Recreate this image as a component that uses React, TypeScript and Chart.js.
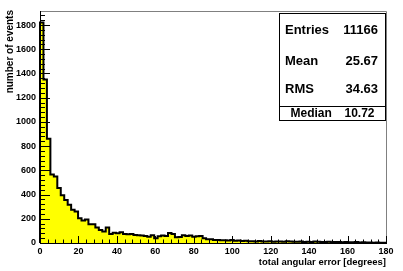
import React, { useEffect, useRef } from 'react';
import { Chart, registerables } from 'chart.js';

Chart.register(...registerables);

// ---------- data ----------
const binLow = 0;
const binHigh = 180;
const counts = [
  1820, 1350, 860, 565, 550, 455, 395, 355, 315, 275,
  260, 205, 185, 195, 155, 155, 128, 108, 95, 127,
  75, 85, 80, 88, 75, 72, 74, 66, 63, 62,
  58, 52, 63, 40, 55, 62, 58, 82, 75, 48,
  50, 64, 58, 62, 52, 55, 58, 40, 32, 30,
  25, 24, 22, 22, 20, 24, 18, 20, 16, 18,
  14, 15, 12, 16, 13, 12, 14, 10, 12, 12,
  10, 14, 12, 11, 10, 12, 9, 10, 8, 12,
  10, 9, 8, 10, 7, 9, 8, 6, 9, 7,
  6, 8, 5, 6, 5, 4, 3, 4, 2, 2,
];
const xTicks = [0, 20, 40, 60, 80, 100, 120, 140, 160, 180];
const yTicks = [0, 200, 400, 600, 800, 1000, 1200, 1400, 1600, 1800];
const yMax = 1916;
const xMinorStep = 4;
const yMinorStep = 40;
const statNames = ['Entries', 'Mean', 'RMS'];
const statValues = ['11166', '25.67', '34.63'];
const medianName = 'Median';
const medianValue = '10.72';
const xTitle = 'total angular error [degrees]';
const yTitle = 'number of events';

const FONT = '"Liberation Sans", Arial, Helvetica, sans-serif';

export default function App() {
  const ref = useRef<HTMLCanvasElement | null>(null);

  useEffect(() => {
    const canvas = ref.current;
    if (!canvas) return;
    const w = (binHigh - binLow) / counts.length;
    const pts: { x: number; y: number }[] = [{ x: binLow, y: 0 }];
    counts.forEach((c, i) => pts.push({ x: binLow + i * w, y: c }));
    pts.push({ x: binHigh, y: counts[counts.length - 1] });
    pts.push({ x: binHigh, y: 0 });

    const overlay = {
      id: 'rootStyle',
      afterDatasetsDraw(chart: any) {
        const ctx = chart.ctx as CanvasRenderingContext2D;
        const a = chart.chartArea;
        const xs = chart.scales.x;
        const ys = chart.scales.y;
        ctx.save();
        // frame top/right
        ctx.strokeStyle = '#808080';
        ctx.lineWidth = 1;
        ctx.beginPath();
        ctx.moveTo(a.left, a.top + 0.5);
        ctx.lineTo(a.right + 0.5, a.top + 0.5);
        ctx.lineTo(a.right + 0.5, a.bottom);
        ctx.stroke();
        // axes lines
        ctx.strokeStyle = '#000';
        ctx.beginPath();
        ctx.moveTo(a.left + 0.5, a.top);
        ctx.lineTo(a.left + 0.5, a.bottom + 0.5);
        ctx.lineTo(a.right + 1, a.bottom + 0.5);
        ctx.stroke();
        // x ticks
        ctx.beginPath();
        for (let v = binLow; v <= binHigh + 1e-9; v += xMinorStep) {
          const px = Math.round(xs.getPixelForValue(v)) + 0.5;
          const major = xTicks.includes(v);
          const len = major ? 7 : 3.5;
          ctx.moveTo(px, a.bottom);
          ctx.lineTo(px, a.bottom - len);
        }
        // y ticks
        for (let v = 0; v <= yMax; v += yMinorStep) {
          const py = Math.round(ys.getPixelForValue(v)) + 0.5;
          const major = yTicks.includes(v);
          const len = major ? 10 : 5;
          ctx.moveTo(a.left, py);
          ctx.lineTo(a.left + len, py);
        }
        ctx.stroke();

        // axis titles
        ctx.fillStyle = '#000';
        ctx.font = `bold 9.5px ${FONT}`;
        ctx.textAlign = 'right';
        ctx.textBaseline = 'middle';
        ctx.fillText(xTitle, a.right, 262);
        ctx.save();
        ctx.font = `bold 10px ${FONT}`;
        ctx.translate(10, a.top - 1);
        ctx.rotate(-Math.PI / 2);
        ctx.textAlign = 'right';
        ctx.fillText(yTitle, 0, 0);
        ctx.restore();

        // stats box
        const bx = 279.5, by = 13.5, bw = 106, bh = 107;
        ctx.fillStyle = '#fff';
        ctx.fillRect(bx, by, bw, bh);
        ctx.strokeStyle = '#000';
        ctx.lineWidth = 1;
        ctx.strokeRect(bx, by, bw, bh);
        ctx.beginPath();
        ctx.moveTo(bx, 106.5);
        ctx.lineTo(bx + bw, 106.5);
        ctx.stroke();
        ctx.fillStyle = '#000';
        ctx.font = `bold 13px ${FONT}`;
        const rowsY = [30, 61, 89.5];
        statNames.forEach((n, i) => {
          ctx.textAlign = 'left';
          ctx.fillText(n, 285, rowsY[i]);
          ctx.textAlign = 'right';
          ctx.fillText(statValues[i], 378, rowsY[i]);
        });
        ctx.font = `bold 12px ${FONT}`;
        ctx.textAlign = 'left';
        ctx.fillText(medianName, 290.5, 113.5);
        ctx.textAlign = 'right';
        ctx.fillText(medianValue, 374.5, 113.5);
        ctx.restore();
      },
    };

    const chart = new Chart(canvas, {
      type: 'line',
      data: {
        datasets: [
          {
            data: pts,
            stepped: 'before',
            borderColor: '#000',
            borderWidth: 2,
            backgroundColor: '#ffff00',
            fill: 'origin',
            pointRadius: 0,
            clip: false,
            borderJoinStyle: 'miter',
          } as any,
        ],
      },
      options: {
        animation: false,
        responsive: false,
        devicePixelRatio: 1,
        layout: { padding: { top: 11, right: 17, left: 0, bottom: 0 } },
        plugins: { legend: { display: false }, tooltip: { enabled: false } },
        scales: {
          x: {
            type: 'linear',
            min: binLow,
            max: binHigh,
            afterBuildTicks: (s: any) => {
              s.ticks = xTicks.map((v) => ({ value: v }));
            },
            afterFit: (s: any) => {
              s.height = 28;
            },
            grid: { display: false, drawTicks: false },
            border: { display: false },
            ticks: {
              color: '#000',
              font: { family: FONT, size: 9, weight: 'bold' },
              padding: 3,
              maxRotation: 0,
              autoSkip: false,
              callback: (v: any) => String(v),
            },
          },
          y: {
            type: 'linear',
            min: 0,
            max: yMax,
            afterBuildTicks: (s: any) => {
              s.ticks = yTicks.map((v) => ({ value: v }));
            },
            afterFit: (s: any) => {
              s.width = 40;
            },
            grid: { display: false, drawTicks: false },
            border: { display: false },
            ticks: {
              color: '#000',
              font: { family: FONT, size: 9, weight: 'bold' },
              padding: 4,
              autoSkip: false,
              callback: (v: any) => String(v),
            },
          },
        },
      },
      plugins: [overlay],
    });
    return () => chart.destroy();
  }, []);

  return (
    <div style={{ position: 'absolute', left: 0, top: 0, width: 403, height: 271, background: '#fff' }}>
      <canvas ref={ref} width={403} height={271} style={{ display: 'block' }} />
    </div>
  );
}
